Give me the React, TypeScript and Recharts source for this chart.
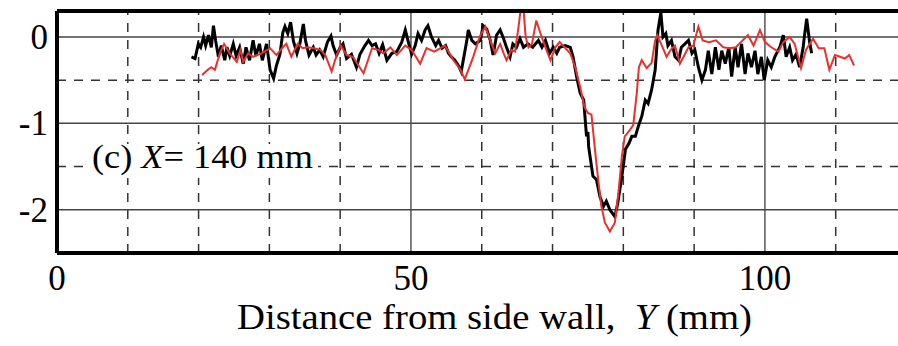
import React from "react";
import { LineChart, Line, XAxis, YAxis, ReferenceLine } from "recharts";

const blackX = [19.0,19.5,19.96,20.3,20.7,21.0,21.4,21.8,22.1,22.4,22.8,23.2,23.7,24.0,24.4,24.9,25.3,25.8,26.3,26.7,27.2,27.7,28.1,28.6,29.0,29.6,30.1,30.6,31.0,31.5,31.9,32.2,32.6,33.0,33.4,33.9,34.3,34.8,35.1,35.6,36.2,36.6,37.1,37.6,38.2,38.7,39.0,39.5,40.0,40.4,40.9,41.6,42.3,42.8,43.5,44.0,44.5,45.0,45.5,46.0,46.6,47.3,48.0,48.7,49.2,49.7,50.1,50.6,51.0,51.5,52.0,52.4,52.9,53.5,53.9,54.4,54.9,55.3,55.7,56.2,56.7,57.1,57.9,58.1,58.6,59.1,59.8,60.2,60.7,61.2,61.6,62.1,62.6,63.0,63.5,64.0,64.4,64.9,65.4,65.9,66.5,67.2,68.0,68.5,69.0,69.6,70.1,70.6,71.0,71.8,72.5,72.9,73.4,73.9,74.4,74.8,75.0,75.1,75.7,76.2,76.7,77.2,77.6,78.1,78.8,79.2,79.8,80.3,80.8,81.2,81.7,82.1,82.6,83.1,83.5,84.0,84.5,84.9,85.3,85.6,86.0,86.3,86.8,87.3,87.8,88.2,88.7,89.2,89.7,90.1,90.6,91.1,91.6,92.0,92.5,93.0,93.5,93.9,94.4,94.9,95.3,95.8,96.2,96.7,97.2,97.6,98.1,98.6,99.0,99.5,99.9,100.4,100.9,101.4,102.1,102.6,103.0,103.5,103.9,104.4,104.9,105.4,105.6,105.9,106.1,106.3,106.6];
const blackY = [-0.23,-0.25,-0.08,-0.12,0,-0.1,0.02,-0.12,0.13,-0.04,-0.23,-0.1,-0.27,-0.12,-0.22,-0.08,-0.22,-0.12,-0.31,-0.12,-0.27,-0.04,-0.22,-0.08,-0.27,-0.08,-0.38,-0.48,-0.33,-0.2,0.05,0.12,0.04,0.17,-0.05,-0.19,-0.08,0.15,-0.04,-0.21,-0.12,-0.21,-0.15,-0.23,-0.06,0.01,-0.1,-0.21,-0.12,-0.08,-0.25,-0.2,-0.35,-0.2,-0.1,-0.04,-0.1,-0.08,-0.19,-0.09,-0.27,-0.19,-0.17,-0.06,0.08,-0.08,-0.2,-0.1,0.04,-0.04,0.08,0.13,0,-0.1,-0.04,-0.13,-0.1,-0.19,-0.23,-0.27,-0.33,-0.4,-0.04,0.08,-0.04,-0.08,-0.04,0.13,0.09,-0.04,-0.21,0.02,0.08,0,-0.12,-0.23,-0.08,-0.12,-0.02,-0.12,-0.08,-0.12,-0.04,-0.12,-0.04,-0.19,-0.12,-0.19,-0.12,-0.1,-0.12,-0.23,-0.46,-0.65,-0.73,-1.15,-1.1,-1.27,-1.61,-1.65,-1.85,-1.96,-1.9,-2.0,-2.08,-1.93,-1.61,-1.3,-1.23,-1.15,-1.15,-1.04,-0.92,-0.73,-0.77,-0.61,-0.38,0.08,0.28,0,0.04,-0.1,-0.04,-0.23,-0.27,-0.12,-0.08,-0.04,-0.19,-0.15,-0.35,-0.5,-0.38,-0.16,-0.43,-0.12,-0.38,-0.16,-0.31,-0.12,-0.46,-0.12,-0.35,-0.08,-0.43,-0.19,-0.35,-0.16,-0.43,-0.23,-0.5,-0.27,-0.35,-0.23,-0.12,0.02,-0.23,-0.12,-0.27,-0.2,-0.35,-0.12,0.02,0.21,0.08,-0.05,-0.19];

const redX = [20.5,21.3,21.8,22.3,23.0,23.6,24.4,25.4,25.9,26.3,27.0,27.7,28.9,30.1,31.0,31.9,32.4,33.1,34.0,34.7,35.4,36.3,37.2,37.9,38.8,39.5,40.1,40.9,41.8,43.3,44.5,45.4,46.1,47.1,48.0,49.2,50.1,51.3,52.2,53.3,54.8,56.0,57.0,57.6,58.8,59.7,60.5,61.2,61.9,62.6,63.1,63.5,64.2,64.7,65.2,65.5,65.9,66.2,66.6,67.1,67.7,68.3,69.0,69.7,70.4,71.0,71.8,72.5,73.2,73.9,74.5,75.0,75.5,76.0,76.5,76.9,77.4,78.1,78.8,79.3,79.8,80.2,80.9,81.4,81.9,82.2,82.6,83.3,84.0,84.5,84.8,85.7,86.1,86.7,87.3,88.0,89.2,89.9,90.6,91.2,92.1,93.1,94.1,95.0,95.9,96.6,97.6,98.4,99.3,100.0,100.9,101.9,102.6,103.5,104.2,105.1,105.8,106.8,107.6,108.4,109.1,109.9,110.6,111.3,111.9,112.6];
const redY = [-0.44,-0.38,-0.35,-0.38,-0.19,-0.08,-0.19,-0.29,-0.15,-0.29,-0.19,-0.23,-0.19,-0.13,-0.21,-0.12,-0.08,-0.23,-0.08,-0.13,-0.12,-0.13,-0.15,-0.21,-0.4,-0.21,-0.1,-0.21,-0.23,-0.42,-0.13,-0.15,-0.19,-0.12,-0.21,-0.1,-0.15,-0.31,-0.13,-0.17,-0.1,-0.27,-0.38,-0.49,-0.23,0,0.12,-0.04,-0.19,-0.08,-0.19,-0.27,-0.15,-0.17,0.12,0.32,0.32,0,-0.12,-0.08,0.19,0.04,-0.12,-0.27,-0.12,-0.06,-0.13,-0.19,-0.35,-0.58,-0.81,-0.88,-0.9,-1.31,-1.69,-1.96,-2.15,-2.25,-2.15,-1.81,-1.38,-1.15,-1.08,-1.02,-0.65,-0.35,-0.27,-0.36,-0.3,-0.04,0.02,-0.15,-0.23,-0.15,-0.1,-0.31,-0.12,-0.1,0.12,-0.04,-0.06,-0.04,-0.12,-0.13,-0.12,-0.06,0.02,-0.1,0.08,-0.06,-0.12,-0.17,-0.06,0,-0.08,-0.36,-0.15,-0.02,-0.13,-0.13,-0.38,-0.21,-0.23,-0.25,-0.21,-0.33];

const xTicks = [0, 50, 100];
const yTicks = [0, -1, -2];
const xSolid = [50, 100];
const xDashed = [10, 20, 30, 40, 60, 70, 80, 90, 110];
const ySolid = [0, -1, -2];
const yDashed = [-0.5, -1.5];

const blackData = blackX.map((x, i) => ({ x, y: blackY[i] }));
const redData = redX.map((x, i) => ({ x, y: redY[i] }));

const FONT = '"Liberation Serif", "Times New Roman", serif';

const XTick = (props: any) => {
  const { x, payload } = props;
  return (
    <text x={x} y={290} textAnchor="middle" fontFamily={FONT} fontSize={35} fill="#000">
      {payload.value}
    </text>
  );
};

const YTick = (props: any) => {
  const { y, payload } = props;
  return (
    <text x={48} y={y + 12} textAnchor="end" fontFamily={FONT} fontSize={35} fill="#000">
      {payload.value}
    </text>
  );
};

export default function App() {
  return (
    <div style={{ position: "absolute", left: 0, top: 0, width: 898, height: 346, background: "#fff" }}>
      <LineChart width={898} height={346} data={blackData} margin={{ top: 11, right: 0, bottom: 0, left: 0 }}>
        <XAxis
          type="number"
          dataKey="x"
          domain={[0, 118.8]}
          ticks={xTicks}
          tick={<XTick />}
          tickLine={false}
          axisLine={{ stroke: "#000", strokeWidth: 4 }}
          height={93}
          allowDataOverflow
        />
        <YAxis
          type="number"
          dataKey="y"
          domain={[-2.5, 0.3]}
          ticks={yTicks}
          tick={<YTick />}
          tickLine={false}
          axisLine={{ stroke: "#000", strokeWidth: 4 }}
          width={57}
          allowDataOverflow
        />
        {xDashed.map((v) => (
          <ReferenceLine key={"xd" + v} x={v} stroke="#333" strokeWidth={1.5} strokeDasharray="9 8" />
        ))}
        {yDashed.map((v) => (
          <ReferenceLine key={"yd" + v} y={v} stroke="#333" strokeWidth={1.5} strokeDasharray="9 8" />
        ))}
        {xSolid.map((v) => (
          <ReferenceLine key={"xs" + v} x={v} stroke="#555" strokeWidth={1.5} />
        ))}
        {ySolid.map((v) => (
          <ReferenceLine key={"ys" + v} y={v} stroke="#444" strokeWidth={1.5} />
        ))}
        <Line data={blackData} dataKey="y" type="linear" stroke="#000" strokeWidth={3} dot={false} isAnimationActive={false} />
        <Line data={redData} dataKey="y" type="linear" stroke="#e8312f" strokeWidth={2} dot={false} isAnimationActive={false} />
        <ReferenceLine y={0.3} stroke="#000" strokeWidth={4} />
        <text x={237} y={329} fontFamily={FONT} fontSize={35} fill="#000" textLength={515} lengthAdjust="spacingAndGlyphs">
          Distance from side wall,{"\u00a0\u00a0"}<tspan fontStyle="italic">Y</tspan> (mm)
        </text>
      </LineChart>
      <svg width={898} height={346} style={{ position: "absolute", left: 0, top: 0, pointerEvents: "none" }}>
        <rect x={88} y={144} width={230} height={34} fill="#fff" />
        <text x={92} y={168} fontFamily={FONT} fontSize={33} fill="#000" textLength={221} lengthAdjust="spacingAndGlyphs">
          (c) <tspan fontStyle="italic">X</tspan>= 140 mm
        </text>
      </svg>
    </div>
  );
}
